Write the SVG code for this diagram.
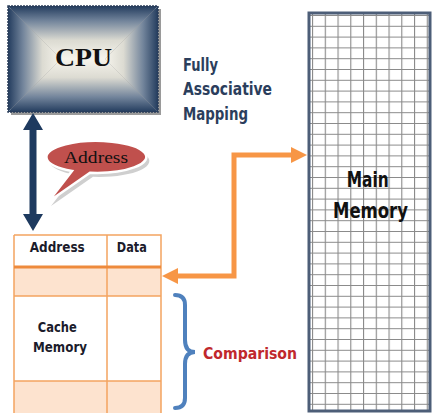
<svg xmlns="http://www.w3.org/2000/svg" width="433" height="413" viewBox="0 0 433 413">
<style>
.cond{font-family:"DejaVu Sans Condensed","DejaVu Sans","Liberation Sans",sans-serif;font-stretch:condensed;font-weight:bold}
.serif{font-family:"Liberation Serif","DejaVu Serif",serif}
.tbl{fill:none;stroke:#f4a460;stroke-width:1.5}
</style>
<defs>
<linearGradient id="gT" x1="0" y1="6" x2="0" y2="59" gradientUnits="userSpaceOnUse"><stop offset="0" stop-color="#233c5e"/><stop offset="0.28" stop-color="#72849b"/><stop offset="0.65" stop-color="#dcdbd2"/><stop offset="1" stop-color="#f6f4ec"/></linearGradient>
<linearGradient id="gB" x1="0" y1="112" x2="0" y2="59" gradientUnits="userSpaceOnUse"><stop offset="0" stop-color="#233c5e"/><stop offset="0.28" stop-color="#72849b"/><stop offset="0.65" stop-color="#dcdbd2"/><stop offset="1" stop-color="#f6f4ec"/></linearGradient>
<linearGradient id="gL" x1="8" y1="0" x2="61" y2="0" gradientUnits="userSpaceOnUse"><stop offset="0" stop-color="#233c5e"/><stop offset="0.28" stop-color="#72849b"/><stop offset="0.65" stop-color="#dcdbd2"/><stop offset="1" stop-color="#f6f4ec"/></linearGradient>
<linearGradient id="gR" x1="158" y1="0" x2="105" y2="0" gradientUnits="userSpaceOnUse"><stop offset="0" stop-color="#233c5e"/><stop offset="0.28" stop-color="#72849b"/><stop offset="0.65" stop-color="#dcdbd2"/><stop offset="1" stop-color="#f6f4ec"/></linearGradient>
<pattern id="grid" patternUnits="userSpaceOnUse" x="312" y="15" width="12.75" height="10.8">
<rect width="12.75" height="10.8" fill="#fff"/>
<path d="M0 0H12.75M0 0V10.8" stroke="#8a8a8a" stroke-width="2.2" fill="none"/>
</pattern>
</defs>

<g id="cpu">
<rect x="11" y="9" width="150" height="106" fill="#9a9a9a"/>
<polygon points="8,6 158,6 105,59 61,59" fill="url(#gT)"/>
<polygon points="8,112 158,112 105,59 61,59" fill="url(#gB)"/>
<polygon points="8,6 61,59 8,112" fill="url(#gL)"/>
<polygon points="158,6 105,59 158,112" fill="url(#gR)"/>
<rect x="8" y="6" width="150" height="106" fill="none" stroke="#2a3d58" stroke-width="1.5" stroke-dasharray="2 1"/>
<text class="serif" x="83.5" y="66" font-size="25" font-weight="bold" text-anchor="middle" fill="#111" textLength="57" lengthAdjust="spacingAndGlyphs">CPU</text>
</g>

<g id="title">
<text class="cond" font-size="17" fill="#2b3e5c">
<tspan x="183" y="71" textLength="35" lengthAdjust="spacingAndGlyphs">Fully</tspan>
<tspan x="183" y="95" textLength="89" lengthAdjust="spacingAndGlyphs">Associative</tspan>
<tspan x="183" y="120" textLength="65" lengthAdjust="spacingAndGlyphs">Mapping</tspan>
</text>
</g>

<g id="main-memory">
<rect x="309" y="13" width="121" height="398" fill="url(#grid)"/>
<rect x="309" y="13" width="121" height="398" fill="none" stroke="#4d5e78" stroke-width="3"/>
<text class="cond" font-size="21" fill="#111" text-anchor="middle">
<tspan x="371" y="187" textLength="42" lengthAdjust="spacingAndGlyphs">Main</tspan>
<tspan x="370.5" y="218" textLength="75" lengthAdjust="spacingAndGlyphs">Memory</tspan>
</text>
</g>

<g id="address-bubble">
<path d="M72,170.9 L48,202 L90,172.8 A50,16 0 1 0 72,170.9 Z" transform="translate(3,4)" fill="#cfcfcf"/>
<path d="M72,170.9 L48,202 L90,172.8 A50,16 0 1 0 72,170.9 Z" fill="#c0504d" stroke="#fff" stroke-width="2.5"/>
<text class="serif" x="96" y="163" font-size="17" text-anchor="middle" fill="#111" textLength="64" lengthAdjust="spacingAndGlyphs">Address</text>
</g>

<g id="cache-memory">
<rect x="14" y="267" width="147" height="29" fill="#fde3cf"/>
<rect x="14" y="381" width="147" height="32" fill="#fde3cf"/>
<path class="tbl" d="M14,235H161V413M14,235V413M107,235V413M14,296H161M14,381H161"/>
<path d="M14,267H161" stroke="#ee8a3c" stroke-width="3"/>
<text class="cond" font-size="14" fill="#1b1b2b" text-anchor="middle">
<tspan x="59.5" y="252" textLength="55" lengthAdjust="spacingAndGlyphs">Address</tspan>
<tspan x="134" y="252" textLength="30" lengthAdjust="spacingAndGlyphs">Data</tspan>
<tspan x="59.5" y="332" textLength="39" lengthAdjust="spacingAndGlyphs">Cache</tspan>
<tspan x="60" y="352" textLength="54" lengthAdjust="spacingAndGlyphs">Memory</tspan>
</text>
</g>

<g id="comparison">
<path d="M175,295 Q185,295 185,305 V340 Q185,352 195,352 Q185,352 185,364 V398 Q185,408 175,408" fill="none" stroke="#4f81bd" stroke-width="4" stroke-linecap="round"/>
<text class="cond" x="203" y="359" font-size="16" fill="#c0282d" textLength="94" lengthAdjust="spacingAndGlyphs">Comparison</text>
</g>

<g id="connectors">
<polygon points="33,113 43,130 36.5,130 36.5,214 43,214 33,231 23,214 29.5,214 29.5,130 23,130" fill="#1e3a5f"/>
<path d="M176,276H234V155H293" fill="none" stroke="#f79646" stroke-width="5"/>
<polygon points="162,276 178,268 178,284" fill="#f79646"/>
<polygon points="307,155 291,147 291,163" fill="#f79646"/>
</g>
</svg>
